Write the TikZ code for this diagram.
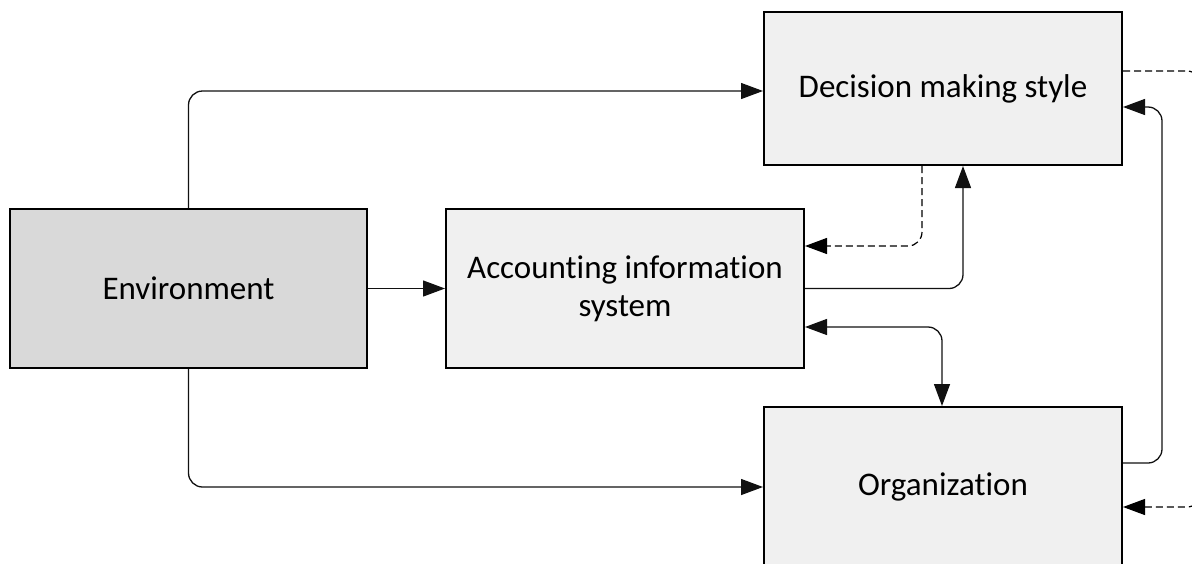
\documentclass[tikz,border=0pt]{standalone}
\usepackage{fontspec}
\setmainfont[Ligatures=NoCommon]{Carlito}
\usetikzlibrary{arrows.meta}
\definecolor{boxfill}{HTML}{F0F0F0}
\definecolor{envfill}{HTML}{D9D9D9}
\definecolor{linegray}{HTML}{111111}
\begin{document}
\begin{tikzpicture}[x=1pt,y=-1pt,
  block/.style={draw=black,line width=2pt,fill=boxfill,minimum width=358pt,
    minimum height=159pt,inner sep=4pt,align=center,
    font=\fontsize{33}{38}\selectfont},
  conn/.style={draw=linegray,line width=1.3pt,rounded corners=14pt,
    -{Triangle[length=22pt,width=16pt]}},
  bothconn/.style={conn,{Triangle[length=22pt,width=16pt]}-{Triangle[length=22pt,width=16pt]}},
  feedback/.style={conn,draw=black,dashed,dash pattern=on 7pt off 4pt,line width=1.2pt}]
\useasboundingbox (0,0) rectangle (1192,563);
\clip (0,0) rectangle (1192,563);

% blocks
\node[block,minimum height=153pt] (dec) at (943,88.5) {Decision making style};
\node[block,fill=envfill,minimum width=357pt] (env) at (188.5,288.5) {Environment};
\node[block] (ais) at (625,288.5) {Accounting information\\system};
\node[block,minimum height=160pt] (org) at (943,487) {Organization};

% free ends of the feedback lines leaving the frame
\coordinate (fbout) at (1201,160);
\coordinate (fbin) at (1201,440);

% connectors
\draw[conn] (env.north) |- ([yshift=-2.5pt]dec.west);
\draw[conn] (env.south) |- (org.west);
\draw[conn] (env.east) -- (ais.west);
\draw[conn] (ais.east) -| ([xshift=20pt]dec.south);
\draw[feedback] ([xshift=-21pt]dec.south) |- ([yshift=42.5pt]ais.east);
\draw[bothconn] ([yshift=-38.5pt]ais.east) -| ([xshift=-1pt]org.north);
\draw[conn] ([yshift=24pt]org.east) -- ++(39,0) |- ([yshift=-18.5pt]dec.east);
\draw[feedback,-] ([yshift=17.5pt]dec.east) -| (fbout);
\draw[feedback] (fbin) |- ([yshift=-20pt]org.east);
\end{tikzpicture}
\end{document}
